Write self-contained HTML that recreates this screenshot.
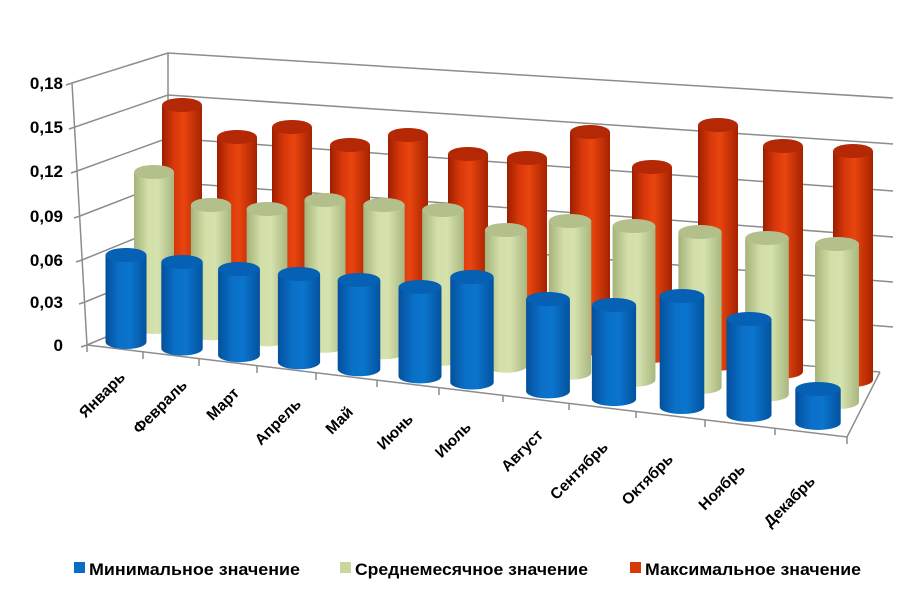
<!DOCTYPE html>
<html><head><meta charset="utf-8">
<style>
html,body{margin:0;padding:0;background:#fff;}
svg{display:block;}
text{font-family:"Liberation Sans",sans-serif;font-weight:bold;fill:#000;}
</style></head><body>
<svg id="s" width="914" height="596" viewBox="0 0 914 596" xmlns="http://www.w3.org/2000/svg">
<defs>
<linearGradient id="gr" x1="0" x2="1" y1="0" y2="0">
<stop offset="0" stop-color="#9c1e00"/><stop offset="0.3" stop-color="#d8380a"/><stop offset="0.55" stop-color="#e8450f"/><stop offset="1" stop-color="#a52200"/></linearGradient>
<linearGradient id="gg" x1="0" x2="1" y1="0" y2="0">
<stop offset="0" stop-color="#a5b27a"/><stop offset="0.35" stop-color="#d2dfa8"/><stop offset="0.6" stop-color="#d6e2ae"/><stop offset="1" stop-color="#a8b67f"/></linearGradient>
<linearGradient id="gb" x1="0" x2="1" y1="0" y2="0">
<stop offset="0" stop-color="#04509c"/><stop offset="0.35" stop-color="#0a70c8"/><stop offset="0.6" stop-color="#0b74cc"/><stop offset="1" stop-color="#04529e"/></linearGradient>
</defs>
<g stroke="#8c8c8c" stroke-width="1.5" fill="none">
<polyline points="72,83 168,53 893,98"/>
<polyline points="75,127 168,95 893,144"/>
<polyline points="77,171 168,138 893,191"/>
<polyline points="80,216 168,182 893,237"/>
<polyline points="82,260 168,225 893,282"/>
<polyline points="85,302 168,268 893,327"/>
<polyline points="87,345 168,311 880,372"/>
<line x1="168" y1="53" x2="168" y2="311"/>
<line x1="72" y1="83" x2="87" y2="345"/>
<polyline points="87,345 847,437 880,372"/>
</g>
<g stroke="#8c8c8c" stroke-width="1.5">
<line x1="66" y1="85" x2="72" y2="83"/><line x1="69" y1="129" x2="75" y2="127"/><line x1="71" y1="173" x2="77" y2="171"/><line x1="74" y1="218" x2="80" y2="216"/><line x1="76" y1="262" x2="82" y2="260"/><line x1="79" y1="304" x2="85" y2="302"/><line x1="81" y1="347" x2="87" y2="345"/>
<line x1="87" y1="345" x2="87" y2="352"/><line x1="143" y1="352" x2="143" y2="359"/><line x1="199" y1="359" x2="199" y2="366"/><line x1="257" y1="366" x2="257" y2="373"/><line x1="316" y1="373" x2="316" y2="380"/><line x1="377" y1="380" x2="377" y2="387"/><line x1="439" y1="388" x2="439" y2="395"/><line x1="503" y1="395" x2="503" y2="402"/><line x1="569" y1="403" x2="569" y2="410"/><line x1="636" y1="411" x2="636" y2="418"/><line x1="705" y1="420" x2="705" y2="427"/><line x1="775" y1="428" x2="775" y2="435"/><line x1="847" y1="437" x2="847" y2="444"/>
</g>
<g id="bars"></g>
<g font-size="17" text-anchor="end">
<text x="63" y="89">0,18</text><text x="63" y="133">0,15</text><text x="63" y="177">0,12</text><text x="63" y="222">0,09</text><text x="63" y="266">0,06</text><text x="63" y="308">0,03</text><text x="63" y="351">0</text>
</g>
<g font-size="15.5" text-anchor="end">
<text transform="translate(126,378) rotate(-45)">Январь</text>
<text transform="translate(188,386) rotate(-45)">Февраль</text>
<text transform="translate(240,394) rotate(-45)">Март</text>
<text transform="translate(302,405) rotate(-45)">Апрель</text>
<text transform="translate(354,413) rotate(-45)">Май</text>
<text transform="translate(414,420) rotate(-45)">Июнь</text>
<text transform="translate(472,428) rotate(-45)">Июль</text>
<text transform="translate(544,436) rotate(-45)">Август</text>
<text transform="translate(609,448) rotate(-45)">Сентябрь</text>
<text transform="translate(674,460) rotate(-45)">Октябрь</text>
<text transform="translate(746,470) rotate(-45)">Ноябрь</text>
<text transform="translate(816,482) rotate(-45)">Декабрь</text>
</g>
<rect x="74" y="562" width="11" height="11" fill="#0a6cc4"/>
<text x="89" y="575" font-size="17" textLength="211" lengthAdjust="spacingAndGlyphs">Минимальное значение</text>
<rect x="340" y="562" width="11" height="11" fill="#c8d79e"/>
<text x="355" y="575" font-size="17" textLength="233" lengthAdjust="spacingAndGlyphs">Среднемесячное значение</text>
<rect x="630" y="562" width="11" height="11" fill="#d8380a"/>
<text x="645" y="575" font-size="17" textLength="216" lengthAdjust="spacingAndGlyphs">Максимальное значение</text>
</svg>
<script>
var g=document.getElementById('bars');
var NS='http://www.w3.org/2000/svg';
function cyl(x,top,bot,rx,fill,tc){
 var ry=7;
 var p=document.createElementNS(NS,'path');
 p.setAttribute('d','M'+(x-rx)+','+top+' L'+(x-rx)+','+bot+' A'+rx+','+ry+' 0 0 0 '+(x+rx)+','+bot+' L'+(x+rx)+','+top+' Z');
 p.setAttribute('fill',fill);g.appendChild(p);
 var e=document.createElementNS(NS,'ellipse');
 e.setAttribute('cx',x);e.setAttribute('cy',top);e.setAttribute('rx',rx);e.setAttribute('ry',ry);
 e.setAttribute('fill',tc);g.appendChild(e);
}
var red=[[182,105],[237,137],[292,127],[350,145],[408,135],[468,154],[527,158],[590,132],[652,167],[718,125],[783,146],[853,151]];
var grn=[[154,172],[211,205],[267,209],[325,200],[384,205],[443,210],[506,230],[570,221],[634,226],[700,232],[767,238],[837,244]];
var blu=[[126,255],[182,262],[239,269],[299,274],[359,280],[420,287],[472,277],[548,299],[614,305],[682,296],[749,319],[818,389]];
red.forEach(function(a){cyl(a[0],a[1],300+0.119*(a[0]-182),20,'url(#gr)','#b52805');});
grn.forEach(function(a,i){cyl(a[0],a[1],327+0.11*(a[0]-154),20+i*0.18,'url(#gg)','#b3c08c');});
blu.forEach(function(a,i){cyl(a[0],a[1],342+0.117*(a[0]-126),20.5+i*0.2,'url(#gb)','#0660b4');});
</script>
</body></html>
